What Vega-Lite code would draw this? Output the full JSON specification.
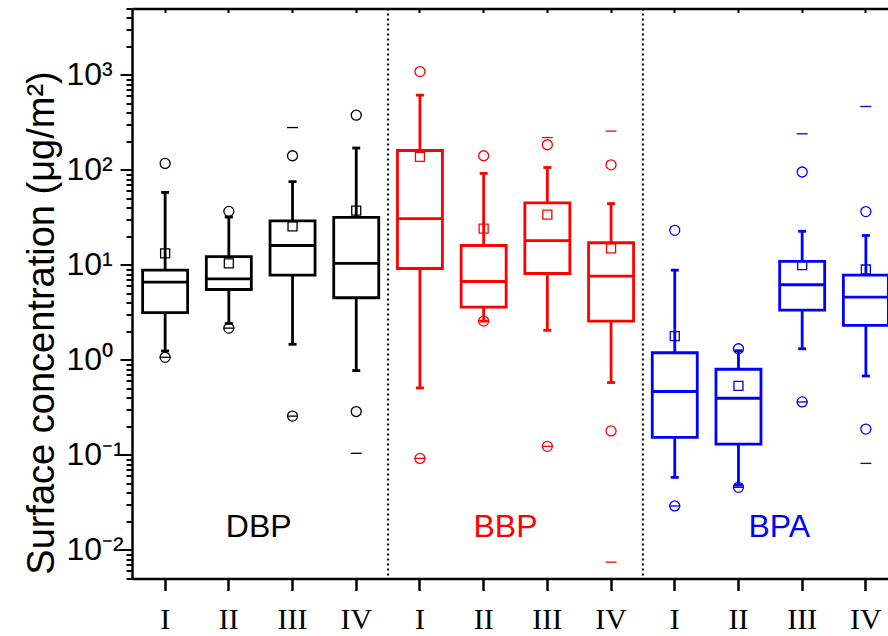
{
  "$schema": "https://vega.github.io/schema/vega-lite/v6.json",
  "width": 767,
  "height": 570,
  "autosize": {"type": "none"},
  "padding": {"left": 132, "top": 8.5, "right": 0, "bottom": 57.5},
  "background": "white",
  "config": {"view": {"stroke": null}, "tick": {"opacity": 1}},
  "datasets": {
    "boxes": [
      {"cat": "DBP I", "grp": "DBP", "lo": 1.24, "q1": 3.14, "med": 6.58, "q3": 8.8, "hi": 58.0, "mean": 13.2},
      {"cat": "DBP II", "grp": "DBP", "lo": 2.42, "q1": 5.51, "med": 7.14, "q3": 12.2, "hi": 31.9, "mean": 10.4},
      {"cat": "DBP III", "grp": "DBP", "lo": 1.46, "q1": 7.79, "med": 16.0, "q3": 29.0, "hi": 75.2, "mean": 25.5},
      {"cat": "DBP IV", "grp": "DBP", "lo": 0.772, "q1": 4.51, "med": 10.4, "q3": 31.7, "hi": 170, "mean": 37.3},
      {"cat": "BBP I", "grp": "BBP", "lo": 0.507, "q1": 9.17, "med": 30.7, "q3": 160, "hi": 612, "mean": 137},
      {"cat": "BBP II", "grp": "BBP", "lo": 2.56, "q1": 3.59, "med": 6.69, "q3": 16.0, "hi": 91.9, "mean": 24.1},
      {"cat": "BBP III", "grp": "BBP", "lo": 2.05, "q1": 8.12, "med": 18.0, "q3": 44.9, "hi": 106, "mean": 33.8},
      {"cat": "BBP IV", "grp": "BBP", "lo": 0.578, "q1": 2.56, "med": 7.61, "q3": 17.1, "hi": 44.2, "mean": 14.9},
      {"cat": "BPA I", "grp": "BPA", "lo": 0.058, "q1": 0.153, "med": 0.465, "q3": 1.19, "hi": 8.8, "mean": 1.78},
      {"cat": "BPA II", "grp": "BPA", "lo": 0.048, "q1": 0.13, "med": 0.395, "q3": 0.797, "hi": 1.25, "mean": 0.532},
      {"cat": "BPA III", "grp": "BPA", "lo": 1.31, "q1": 3.34, "med": 6.18, "q3": 10.9, "hi": 22.6, "mean": 9.93},
      {"cat": "BPA IV", "grp": "BPA", "lo": 0.677, "q1": 2.31, "med": 4.58, "q3": 7.79, "hi": 20.4, "mean": 8.95}
    ],
    "marks": [
      {"cat": "DBP I", "grp": "DBP", "v": 117, "kind": "circle"},
      {"cat": "DBP I", "grp": "DBP", "v": 1.065, "kind": "circle"},
      {"cat": "DBP I", "grp": "DBP", "v": 1.065, "kind": "dash"},
      {"cat": "DBP II", "grp": "DBP", "v": 36.6, "kind": "circle"},
      {"cat": "DBP II", "grp": "DBP", "v": 2.16, "kind": "circle"},
      {"cat": "DBP II", "grp": "DBP", "v": 2.16, "kind": "dash"},
      {"cat": "DBP III", "grp": "DBP", "v": 141, "kind": "circle"},
      {"cat": "DBP III", "grp": "DBP", "v": 279, "kind": "dash"},
      {"cat": "DBP III", "grp": "DBP", "v": 0.256, "kind": "circle"},
      {"cat": "DBP III", "grp": "DBP", "v": 0.256, "kind": "dash"},
      {"cat": "DBP IV", "grp": "DBP", "v": 377, "kind": "circle"},
      {"cat": "DBP IV", "grp": "DBP", "v": 0.286, "kind": "circle"},
      {"cat": "DBP IV", "grp": "DBP", "v": 0.104, "kind": "dash"},
      {"cat": "BBP I", "grp": "BBP", "v": 1083, "kind": "circle"},
      {"cat": "BBP I", "grp": "BBP", "v": 0.0919, "kind": "circle"},
      {"cat": "BBP I", "grp": "BBP", "v": 0.0919, "kind": "dash"},
      {"cat": "BBP II", "grp": "BBP", "v": 141, "kind": "circle"},
      {"cat": "BBP II", "grp": "BBP", "v": 2.56, "kind": "circle"},
      {"cat": "BBP II", "grp": "BBP", "v": 2.56, "kind": "dash"},
      {"cat": "BBP III", "grp": "BBP", "v": 184, "kind": "circle"},
      {"cat": "BBP III", "grp": "BBP", "v": 219, "kind": "dash"},
      {"cat": "BBP III", "grp": "BBP", "v": 0.123, "kind": "circle"},
      {"cat": "BBP III", "grp": "BBP", "v": 0.123, "kind": "dash"},
      {"cat": "BBP IV", "grp": "BBP", "v": 113, "kind": "circle"},
      {"cat": "BBP IV", "grp": "BBP", "v": 256, "kind": "dash"},
      {"cat": "BBP IV", "grp": "BBP", "v": 0.179, "kind": "circle"},
      {"cat": "BBP IV", "grp": "BBP", "v": 0.00743, "kind": "dash"},
      {"cat": "BPA I", "grp": "BPA", "v": 23.1, "kind": "circle"},
      {"cat": "BPA I", "grp": "BPA", "v": 0.029, "kind": "circle"},
      {"cat": "BPA I", "grp": "BPA", "v": 0.029, "kind": "dash"},
      {"cat": "BPA II", "grp": "BPA", "v": 1.31, "kind": "circle"},
      {"cat": "BPA II", "grp": "BPA", "v": 0.0456, "kind": "circle"},
      {"cat": "BPA II", "grp": "BPA", "v": 0.0456, "kind": "dash"},
      {"cat": "BPA III", "grp": "BPA", "v": 95.1, "kind": "circle"},
      {"cat": "BPA III", "grp": "BPA", "v": 240, "kind": "dash"},
      {"cat": "BPA III", "grp": "BPA", "v": 0.361, "kind": "circle"},
      {"cat": "BPA III", "grp": "BPA", "v": 0.361, "kind": "dash"},
      {"cat": "BPA IV", "grp": "BPA", "v": 36.4, "kind": "circle"},
      {"cat": "BPA IV", "grp": "BPA", "v": 465, "kind": "dash"},
      {"cat": "BPA IV", "grp": "BPA", "v": 0.187, "kind": "circle"},
      {"cat": "BPA IV", "grp": "BPA", "v": 0.0814, "kind": "dash"}
    ],
    "dividers": [{"after": "DBP IV"}, {"after": "BBP IV"}],
    "labels": [
      {"label": "DBP", "grp": "DBP", "at": "DBP II"},
      {"label": "BBP", "grp": "BBP", "at": "BBP II"},
      {"label": "BPA", "grp": "BPA", "at": "BPA II"}
    ]
  },
  "resolve": {"axis": {"x": "independent"}},
  "layer": [
    {
      "data": {"name": "boxes"},
      "mark": {"type": "rule", "strokeWidth": 2.8},
      "encoding": {
        "x": {
          "field": "cat", "type": "nominal",
          "scale": {"type": "band", "paddingInner": 0, "paddingOuter": 0.02,
            "domain": ["DBP I", "DBP II", "DBP III", "DBP IV", "BBP I", "BBP II", "BBP III", "BBP IV", "BPA I", "BPA II", "BPA III", "BPA IV"]},
          "axis": {
            "orient": "bottom", "title": null, "labelExpr": "split(datum.value, ' ')[1]",
            "labelAngle": 0, "labelFont": "Liberation Serif", "labelFontSize": 30, "labelColor": "black",
            "tickSize": 12, "tickWidth": 2.5, "tickColor": "black", "labelPadding": 14,
            "domainWidth": 2.5, "domainColor": "black", "grid": false
          }
        },
        "y": {
          "field": "lo", "type": "quantitative",
          "scale": {"type": "log", "domain": [0.005, 5000], "nice": false},
          "axis": {
            "title": "Surface concentration (μg/m²)",
            "values": [0.005, 0.006, 0.007, 0.008, 0.009, 0.01, 0.02, 0.03, 0.04, 0.05, 0.06, 0.07, 0.08, 0.09, 0.1, 0.2, 0.3, 0.4, 0.5, 0.6, 0.7, 0.8, 0.9, 1, 2, 3, 4, 5, 6, 7, 8, 9, 10, 20, 30, 40, 50, 60, 70, 80, 90, 100, 200, 300, 400, 500, 600, 700, 800, 900, 1000, 2000, 3000, 4000, 5000],
            "labelExpr": "datum.value == 1000 ? '10³' : datum.value == 100 ? '10²' : datum.value == 10 ? '10¹' : datum.value == 1 ? '10⁰' : datum.value == 0.1 ? '10⁻¹' : datum.value == 0.01 ? '10⁻²' : ''",
            "labelOverlap": false,
            "labelFont": "Liberation Sans", "labelFontSize": 32, "labelColor": "black", "labelPadding": 54, "labelAlign": "left",
            "tickSize": {"condition": {"test": "datum.value == 0.01 || datum.value == 0.1 || datum.value == 1 || datum.value == 10 || datum.value == 100 || datum.value == 1000", "value": 12}, "value": 6},
            "tickWidth": 2, "tickColor": "black", "domainWidth": 2.5, "domainColor": "black", "grid": false,
            "titleFont": "Liberation Sans", "titleFontSize": 38, "titleFontWeight": "normal", "titleColor": "black",
            "titleX": -79, "titleY": 314, "titleBaseline": "alphabetic"
          }
        },
        "y2": {"field": "hi"},
        "color": {"field": "grp", "type": "nominal", "scale": {"domain": ["DBP", "BBP", "BPA"], "range": ["#000000", "#ff0000", "#0000ff"]}, "legend": null}
      }
    },
    {
      "data": {"name": "boxes"},
      "mark": {"type": "bar", "size": 45, "fill": "white", "strokeWidth": 2.8},
      "encoding": {
        "x": {"field": "cat", "type": "nominal", "axis": null},
        "y": {"field": "q1", "type": "quantitative"},
        "y2": {"field": "q3"},
        "stroke": {"field": "grp", "type": "nominal", "scale": {"domain": ["DBP", "BBP", "BPA"], "range": ["#000000", "#ff0000", "#0000ff"]}, "legend": null}
      }
    },
    {
      "data": {"name": "boxes"},
      "mark": {"type": "tick", "size": 45, "thickness": 2.8, "opacity": 1},
      "encoding": {
        "x": {"field": "cat", "type": "nominal", "axis": null},
        "y": {"field": "med", "type": "quantitative"},
        "color": {"field": "grp", "type": "nominal", "legend": null}
      }
    },
    {
      "data": {"name": "boxes"},
      "mark": {"type": "tick", "size": 8, "thickness": 2.8, "opacity": 1},
      "encoding": {
        "x": {"field": "cat", "type": "nominal", "axis": null},
        "y": {"field": "lo", "type": "quantitative"},
        "color": {"field": "grp", "type": "nominal", "legend": null}
      }
    },
    {
      "data": {"name": "boxes"},
      "mark": {"type": "tick", "size": 8, "thickness": 2.8, "opacity": 1},
      "encoding": {
        "x": {"field": "cat", "type": "nominal", "axis": null},
        "y": {"field": "hi", "type": "quantitative"},
        "color": {"field": "grp", "type": "nominal", "legend": null}
      }
    },
    {
      "data": {"name": "boxes"},
      "mark": {"type": "point", "shape": "square", "size": 81, "filled": false, "strokeWidth": 1.3, "opacity": 1},
      "encoding": {
        "x": {"field": "cat", "type": "nominal",
          "axis": {"orient": "top", "title": null, "labels": false, "tickSize": -4, "tickWidth": 2, "tickColor": "black", "domainWidth": 2.5, "domainColor": "black", "grid": false}},
        "y": {"field": "mean", "type": "quantitative"},
        "color": {"field": "grp", "type": "nominal", "legend": null}
      }
    },
    {
      "data": {"name": "marks"},
      "transform": [{"filter": "datum.kind == 'circle'"}],
      "mark": {"type": "point", "shape": "circle", "size": 100, "filled": false, "strokeWidth": 1.3, "opacity": 1},
      "encoding": {
        "x": {"field": "cat", "type": "nominal", "axis": null},
        "y": {"field": "v", "type": "quantitative"},
        "color": {"field": "grp", "type": "nominal", "legend": null}
      }
    },
    {
      "data": {"name": "marks"},
      "transform": [{"filter": "datum.kind == 'dash'"}],
      "mark": {"type": "tick", "size": 11, "thickness": 1.3, "opacity": 1},
      "encoding": {
        "x": {"field": "cat", "type": "nominal", "axis": null},
        "y": {"field": "v", "type": "quantitative"},
        "color": {"field": "grp", "type": "nominal", "legend": null}
      }
    },
    {
      "data": {"name": "dividers"},
      "mark": {"type": "rule", "strokeDash": [2, 3], "strokeWidth": 2, "color": "black"},
      "encoding": {
        "x": {"field": "after", "type": "nominal", "bandPosition": 1, "axis": null}
      }
    },
    {
      "data": {"name": "labels"},
      "transform": [{"filter": "datum.grp == 'DBP'"}],
      "mark": {"type": "text", "font": "Liberation Sans", "fontSize": 32, "baseline": "middle", "align": "center", "dx": -2},
      "encoding": {
        "x": {"field": "at", "type": "nominal", "bandPosition": 1, "axis": null},
        "y": {"datum": 0.0176},
        "text": {"field": "label"},
        "color": {"field": "grp", "type": "nominal", "legend": null}
      }
    },
    {
      "data": {"name": "labels"},
      "transform": [{"filter": "datum.grp == 'BBP'"}],
      "mark": {"type": "text", "font": "Liberation Sans", "fontSize": 32, "baseline": "middle", "align": "center", "dx": -10},
      "encoding": {
        "x": {"field": "at", "type": "nominal", "bandPosition": 1, "axis": null},
        "y": {"datum": 0.0176},
        "text": {"field": "label"},
        "color": {"field": "grp", "type": "nominal", "legend": null}
      }
    },
    {
      "data": {"name": "labels"},
      "transform": [{"filter": "datum.grp == 'BPA'"}],
      "mark": {"type": "text", "font": "Liberation Sans", "fontSize": 32, "baseline": "middle", "align": "center", "dx": 9},
      "encoding": {
        "x": {"field": "at", "type": "nominal", "bandPosition": 1, "axis": null},
        "y": {"datum": 0.0176},
        "text": {"field": "label"},
        "color": {"field": "grp", "type": "nominal", "legend": null}
      }
    }
  ]
}
